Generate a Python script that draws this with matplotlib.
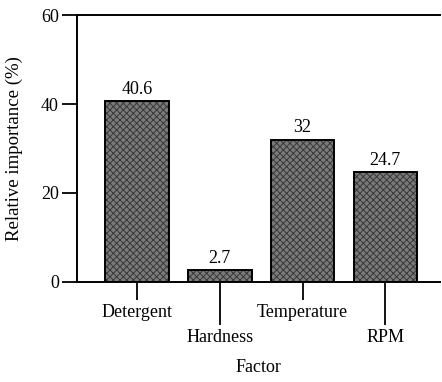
import matplotlib
matplotlib.use("Agg")
import matplotlib.pyplot as plt

factors = ["Detergent", "Hardness", "Temperature", "RPM"]
importance = [40.6, 2.7, 32, 24.7]
value_labels = ["40.6", "2.7", "32", "24.7"]
y_ticks = [0, 20, 40, 60]

plt.rcParams["font.family"] = ["Liberation Serif", "DejaVu Serif"]
plt.rcParams["hatch.linewidth"] = 0.7

fig = plt.figure(figsize=(4.42, 3.82), dpi=100)
ax = fig.add_axes([0.1742, 0.2618, 0.8213, 0.6989])

x = list(range(len(factors)))
ax.bar(x, importance, width=0.77, color="#7a7a7a", edgecolor="#383838",
       hatch="xxxxx", linewidth=0, zorder=2)
ax.bar(x, importance, width=0.77, fill=False, edgecolor="black",
       linewidth=1.4, zorder=3)

for xi, v, lab in zip(x, importance, value_labels):
    ax.annotate(lab, (xi, v), xytext=(0, 2.5), textcoords="offset points",
                ha="center", va="bottom", fontsize=13)

ax.set_xlim(-0.725, 3.66)
ax.set_ylim(0, 60)
ax.set_yticks(y_ticks)
ax.tick_params(axis="y", length=11, width=1.3, labelsize=13, pad=2)

# alternate short and long ticks so neighbouring labels do not collide
ax.set_xticks([x[0], x[2]], [factors[0], factors[2]])
ax.set_xticks([x[1], x[3]], [factors[1], factors[3]], minor=True)
ax.tick_params(axis="x", which="major", length=13, width=1.3, labelsize=13, pad=3)
ax.tick_params(axis="x", which="minor", length=31, width=1.3, labelsize=13, pad=3)

for side in ("left", "top", "bottom"):
    ax.spines[side].set_linewidth(1.4)
ax.spines["right"].set_visible(False)

ax.set_ylabel("Relative importance (%)", fontsize=13.5)
ax.yaxis.set_label_coords(-0.148, 0.5)
ax.set_xlabel("Factor", fontsize=13, labelpad=9)

fig.savefig("out.png", dpi=100)
